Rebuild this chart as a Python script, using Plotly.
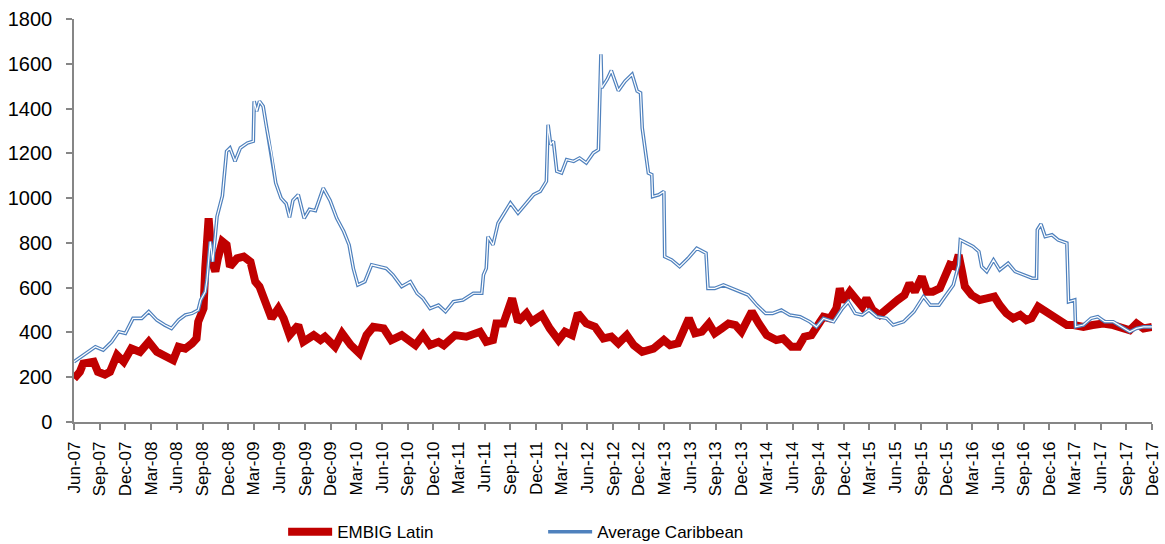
import plotly.graph_objects as go

# EMBIG Latin (red, thick)
embig_dates = [
    "2007-06-01", "2007-06-22", "2007-07-04", "2007-08-10", "2007-08-25", "2007-09-19",
    "2007-10-07", "2007-11-01", "2007-11-25", "2007-12-22", "2008-01-22", "2008-02-22",
    "2008-03-22", "2008-04-19", "2008-05-19", "2008-06-07", "2008-07-01", "2008-07-25",
    "2008-08-10", "2008-08-16", "2008-09-04", "2008-09-10", "2008-09-22", "2008-10-04",
    "2008-10-16", "2008-10-25", "2008-11-10", "2008-11-25", "2008-12-07", "2009-01-01",
    "2009-01-25", "2009-02-18", "2009-03-07", "2009-03-22", "2009-04-04", "2009-04-16",
    "2009-05-04", "2009-05-28", "2009-06-16", "2009-07-07", "2009-08-07", "2009-08-25",
    "2009-10-01", "2009-10-25", "2009-11-10", "2009-12-16", "2010-01-10", "2010-02-10",
    "2010-03-13", "2010-04-07", "2010-05-01", "2010-06-07", "2010-07-04", "2010-08-10",
    "2010-09-28", "2010-10-25", "2010-11-19", "2010-12-19", "2011-01-07", "2011-02-16",
    "2011-03-28", "2011-05-16", "2011-06-07", "2011-07-01", "2011-07-13", "2011-08-07",
    "2011-08-25", "2011-09-07", "2011-09-28", "2011-10-28", "2011-11-16", "2011-12-22",
    "2012-01-19", "2012-02-19", "2012-03-13", "2012-04-07", "2012-04-28", "2012-05-28",
    "2012-06-28", "2012-07-28", "2012-08-25", "2012-09-19", "2012-10-19", "2012-11-13",
    "2012-12-13", "2013-01-22", "2013-02-28", "2013-03-22", "2013-04-19", "2013-05-13",
    "2013-05-28", "2013-06-19", "2013-07-13", "2013-08-07", "2013-08-28", "2013-09-22",
    "2013-10-16", "2013-11-10", "2013-12-01", "2013-12-19", "2014-01-07", "2014-02-01",
    "2014-03-01", "2014-04-04", "2014-04-28", "2014-05-28", "2014-06-22", "2014-07-13",
    "2014-08-07", "2014-09-07", "2014-09-19", "2014-10-13", "2014-11-04", "2014-11-16",
    "2014-11-28", "2014-12-22", "2015-01-16", "2015-02-04", "2015-02-19", "2015-03-13",
    "2015-04-07", "2015-04-25", "2015-05-19", "2015-06-10", "2015-07-04", "2015-07-22",
    "2015-08-10", "2015-09-04", "2015-09-22", "2015-10-13", "2015-11-07", "2015-12-01",
    "2015-12-13", "2016-01-01", "2016-01-13", "2016-01-25", "2016-02-04", "2016-02-28",
    "2016-03-28", "2016-04-22", "2016-05-19", "2016-06-07", "2016-07-01", "2016-07-25",
    "2016-08-19", "2016-09-10", "2016-09-28", "2016-10-22", "2016-11-10", "2016-12-04",
    "2017-01-01", "2017-02-01", "2017-02-25", "2017-04-01", "2017-05-04", "2017-06-10",
    "2017-07-16", "2017-08-19", "2017-09-13", "2017-10-07", "2017-11-01", "2017-12-01",
]
embig_values = [
    194, 224, 261, 269, 224, 212,
    224, 299, 269, 328, 313, 358,
    313, 291, 276, 336, 328, 351,
    373, 448, 507, 686, 910, 716,
    672, 731, 806, 791, 694, 731,
    739, 716, 627, 605, 567, 537,
    463, 507, 463, 388, 433, 358,
    388, 366, 381, 336, 396, 343,
    306, 388, 425, 418, 366, 388,
    343, 388, 343, 358, 343, 388,
    381, 403, 358, 366, 440, 440,
    522, 552, 448, 485, 448, 478,
    418, 366, 403, 388, 485, 440,
    425, 373, 381, 351, 388, 343,
    313, 328, 366, 343, 351, 418,
    463, 396, 403, 440, 396, 418,
    440, 433, 403, 448, 493, 440,
    388, 366, 373, 336, 336, 381,
    388, 448, 470, 463, 507, 597,
    537, 582, 545, 515, 552, 500,
    478, 500, 522, 545, 567, 619,
    582, 649, 582, 582, 597, 657,
    702, 694, 746, 672, 605, 567,
    545, 552, 560, 522, 485, 463,
    478, 455, 463, 515, 500, 478,
    455, 433, 433, 425, 433, 440,
    433, 418, 410, 440, 418, 425,
]

# Average Caribbean (blue double line)
carib_dates = [
    "2007-06-01", "2007-07-04", "2007-08-16", "2007-09-13", "2007-10-13", "2007-11-07",
    "2007-12-01", "2007-12-28", "2008-01-28", "2008-02-22", "2008-03-22", "2008-04-19",
    "2008-05-13", "2008-06-07", "2008-07-01", "2008-07-25", "2008-08-16", "2008-08-25",
    "2008-09-10", "2008-09-16", "2008-09-28", "2008-10-07", "2008-10-13", "2008-10-22",
    "2008-11-10", "2008-11-25", "2008-12-07", "2008-12-25", "2009-01-13", "2009-02-07",
    "2009-02-28", "2009-03-03", "2009-03-12", "2009-03-22", "2009-04-04", "2009-04-16",
    "2009-05-04", "2009-05-19", "2009-06-07", "2009-06-25", "2009-07-07", "2009-07-19",
    "2009-08-07", "2009-08-28", "2009-09-16", "2009-10-07", "2009-11-04", "2009-11-28",
    "2009-12-22", "2010-01-16", "2010-02-04", "2010-02-19", "2010-03-07", "2010-04-01",
    "2010-04-25", "2010-05-25", "2010-06-16", "2010-07-10", "2010-08-10", "2010-09-10",
    "2010-10-04", "2010-10-25", "2010-11-19", "2010-12-19", "2011-01-13", "2011-02-10",
    "2011-03-16", "2011-04-22", "2011-05-22", "2011-05-28", "2011-06-07", "2011-06-13",
    "2011-07-01", "2011-07-19", "2011-08-07", "2011-09-01", "2011-09-28", "2011-10-22",
    "2011-11-22", "2011-12-16", "2012-01-07", "2012-01-13", "2012-01-22", "2012-02-01",
    "2012-02-13", "2012-03-01", "2012-03-19", "2012-04-13", "2012-05-04", "2012-05-28",
    "2012-06-22", "2012-07-10", "2012-07-16", "2012-07-19", "2012-07-22", "2012-08-10",
    "2012-08-25", "2012-09-19", "2012-10-13", "2012-11-07", "2012-11-25", "2012-12-07",
    "2012-12-13", "2012-12-22", "2013-01-04", "2013-01-16", "2013-01-19", "2013-02-10",
    "2013-02-28", "2013-03-03", "2013-03-28", "2013-04-25", "2013-05-25", "2013-06-25",
    "2013-07-28", "2013-08-04", "2013-08-28", "2013-09-28", "2013-10-28", "2013-11-25",
    "2013-12-25", "2014-01-25", "2014-02-25", "2014-03-22", "2014-04-22", "2014-05-22",
    "2014-06-28", "2014-08-01", "2014-08-25", "2014-09-19", "2014-10-25", "2014-11-25",
    "2014-12-16", "2015-01-10", "2015-02-04", "2015-02-28", "2015-03-28", "2015-05-01",
    "2015-05-25", "2015-07-01", "2015-08-07", "2015-09-10", "2015-10-04", "2015-11-04",
    "2015-11-25", "2015-12-25", "2016-01-13", "2016-01-19", "2016-02-10", "2016-03-04",
    "2016-03-25", "2016-04-04", "2016-04-22", "2016-05-16", "2016-06-07", "2016-07-07",
    "2016-08-01", "2016-09-01", "2016-10-01", "2016-10-16", "2016-10-19", "2016-11-01",
    "2016-11-16", "2016-12-10", "2017-01-01", "2017-02-01", "2017-02-07", "2017-03-01",
    "2017-03-04", "2017-04-01", "2017-04-28", "2017-05-22", "2017-06-16", "2017-07-16",
    "2017-08-16", "2017-09-13", "2017-10-07", "2017-11-01", "2017-12-01",
]
carib_values = [
    269, 299, 336, 321, 358, 403,
    396, 463, 463, 493, 455, 433,
    418, 455, 478, 485, 500, 545,
    582, 634, 806, 716, 813, 918,
    1010, 1209, 1224, 1164, 1224, 1246,
    1254, 1433, 1388, 1433, 1410, 1317,
    1200, 1067, 1000, 975, 914, 990,
    1015, 910, 950, 944, 1045, 990,
    910, 851, 791, 686, 612, 627,
    702, 694, 686, 657, 605, 627,
    575, 552, 507, 522, 493, 537,
    545, 575, 575, 657, 686, 828,
    791, 888, 925, 978, 933, 970,
    1015, 1030, 1075, 1328, 1239, 1254,
    1120, 1112, 1172, 1164, 1179, 1157,
    1202, 1216, 1523, 1642, 1493, 1530,
    1570, 1480, 1522, 1553, 1478, 1470,
    1313, 1239, 1112, 1105, 1007, 1015,
    1030, 739, 724, 694, 731, 776,
    754, 597, 597, 612, 597, 582,
    567, 522, 485, 485, 500, 478,
    470, 448, 425, 463, 448, 507,
    537, 485, 478, 500, 470, 463,
    433, 448, 493, 560, 522, 522,
    560, 612, 702, 813, 799, 784,
    761, 694, 672, 724, 679, 709,
    672, 657, 642, 642, 858, 884,
    828, 836, 813, 799, 537, 545,
    425, 433, 463, 470, 448, 448,
    425, 403, 418, 425, 425,
]

FONT = "Arial, Liberation Sans, sans-serif"
AXIS_GREY = "#868686"

fig = go.Figure()

fig.add_trace(go.Scatter(
    name="EMBIG Latin", x=embig_dates, y=embig_values,
    mode="lines", line=dict(color="#C00000", width=8),
))
# double line: blue outer + white core
fig.add_trace(go.Scatter(
    name="Average Caribbean", x=carib_dates, y=carib_values,
    mode="lines", line=dict(color="#4F81BD", width=3.6),
))
fig.add_trace(go.Scatter(
    name="Average Caribbean core", x=carib_dates, y=carib_values,
    mode="lines", line=dict(color="white", width=1.2),
    showlegend=False, hoverinfo="skip",
))

# the capture comes out a little squeezed vertically, so the figure is a bit taller
fig.update_layout(
    width=1165, height=562,
    margin=dict(l=74, r=13, t=19, b=128),
    paper_bgcolor="white", plot_bgcolor="white",
    font=dict(family=FONT, size=17, color="black"),
    showlegend=True,
    legend=dict(
        orientation="h", x=0.194, y=-0.2735, xanchor="left", yanchor="middle",
        entrywidth=201, itemwidth=44, font=dict(size=17),
    ),
    xaxis=dict(
        type="date", range=["2007-06-01", "2017-12-01"], automargin=False,
        tick0="2007-06-01", dtick="M3", tickformat="%b-%y", tickangle=-90,
        showgrid=False, zeroline=False,
        showline=True, linecolor=AXIS_GREY, linewidth=1.5,
        ticks="outside", ticklen=6, tickcolor=AXIS_GREY, tickwidth=1.5,
        tickfont=dict(size=17), ticklabelstandoff=5,
    ),
    yaxis=dict(
        range=[0, 1800], dtick=200, automargin=False,
        showgrid=False, zeroline=False,
        showline=True, linecolor=AXIS_GREY, linewidth=1.5,
        ticks="outside", ticklen=6, tickcolor=AXIS_GREY, tickwidth=1.5,
        tickfont=dict(size=20), ticklabelstandoff=10,
    ),
)

# no body margin, no stray line box below the plot
page_fix = (
    "document.body.style.margin='0';"
    "var gd=document.getElementById('{plot_id}');"
    "gd.parentElement.style.height='562px';"
    "gd.parentElement.style.overflow='hidden';"
)
fig.write_html("out.html", post_script=page_fix, config={"displayModeBar": False})
